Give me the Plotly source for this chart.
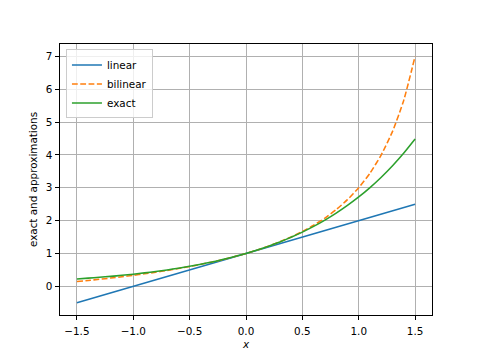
import plotly.graph_objects as go

x_vals = [-1.5, -1.4, -1.3, -1.2, -1.1, -1.0, -0.9, -0.8, -0.7, -0.6, -0.5, -0.4, -0.3, -0.2, -0.1,
          0.0, 0.1, 0.2, 0.3, 0.4, 0.5, 0.6, 0.7, 0.8, 0.9, 1.0, 1.1, 1.2, 1.3, 1.4, 1.5]
linear_vals = [-0.5, -0.4, -0.3, -0.2, -0.1, 0.0, 0.1, 0.2, 0.3, 0.4, 0.5, 0.6, 0.7, 0.8, 0.9,
               1.0, 1.1, 1.2, 1.3, 1.4, 1.5, 1.6, 1.7, 1.8, 1.9, 2.0, 2.1, 2.2, 2.3, 2.4, 2.5]
bilinear_vals = [0.143, 0.176, 0.212, 0.25, 0.290, 0.333, 0.379, 0.429, 0.481, 0.538, 0.6, 0.667, 0.739, 0.818, 0.905,
                 1.0, 1.105, 1.222, 1.353, 1.5, 1.667, 1.857, 2.077, 2.333, 2.636, 3.0, 3.444, 4.0, 4.714, 5.667, 7.0]
exact_vals = [0.223, 0.247, 0.273, 0.301, 0.333, 0.368, 0.407, 0.449, 0.497, 0.549, 0.607, 0.670, 0.741, 0.819, 0.905,
              1.0, 1.105, 1.221, 1.350, 1.492, 1.649, 1.822, 2.014, 2.226, 2.460, 2.718, 3.004, 3.320, 3.669, 4.055, 4.482]
x_ticks = [-1.5, -1.0, -0.5, 0.0, 0.5, 1.0, 1.5]
y_ticks = [0, 1, 2, 3, 4, 5, 6, 7]

FONT = "DejaVu Sans"
fig = go.Figure()
fig.add_trace(go.Scatter(x=x_vals, y=linear_vals, mode="lines", name="linear",
                         line=dict(color="#1f77b4", width=1.56)))
fig.add_trace(go.Scatter(x=x_vals, y=bilinear_vals, mode="lines", name="bilinear",
                         line=dict(color="#ff7f0e", width=1.56, dash="5.8px,2.5px", shape="spline", smoothing=0.5)))
fig.add_trace(go.Scatter(x=x_vals, y=exact_vals, mode="lines", name="exact",
                         line=dict(color="#2ca02c", width=1.56, shape="spline", smoothing=0.5)))

axis_common = dict(showline=True, mirror=True, linecolor="black", linewidth=0.9,
                   ticks="outside", ticklen=3.6, tickwidth=0.9, tickcolor="black",
                   showgrid=True, gridcolor="#b0b0b0", gridwidth=0.83, zeroline=False,
                   tickfont=dict(family=FONT, size=10.4, color="black"))
fig.update_layout(
    width=480, height=360,
    margin=dict(l=60, r=48, t=44, b=40),
    paper_bgcolor="white", plot_bgcolor="white",
    font=dict(family=FONT, size=10.4, color="black"),
    xaxis=dict(range=[-1.65, 1.65], tickvals=x_ticks, tickformat=".1f", ticklabelstandoff=3,
               title=dict(text="<i>x</i>", standoff=4, font=dict(family=FONT, size=10.4)),
               **axis_common),
    yaxis=dict(range=[-0.875, 7.375], tickvals=y_ticks, tickformat="d", ticklabelstandoff=1,
               title=dict(text="exact and approximations", standoff=6, font=dict(family=FONT, size=10.4)),
               **axis_common),
    legend=dict(x=0.016, y=0.98, xanchor="left", yanchor="top",
                bgcolor="rgba(255,255,255,0.8)", bordercolor="#cccccc", borderwidth=1,
                font=dict(family=FONT, size=10.4), itemwidth=30, tracegroupgap=0),
    showlegend=True,
)
fig.write_html("out.html")
